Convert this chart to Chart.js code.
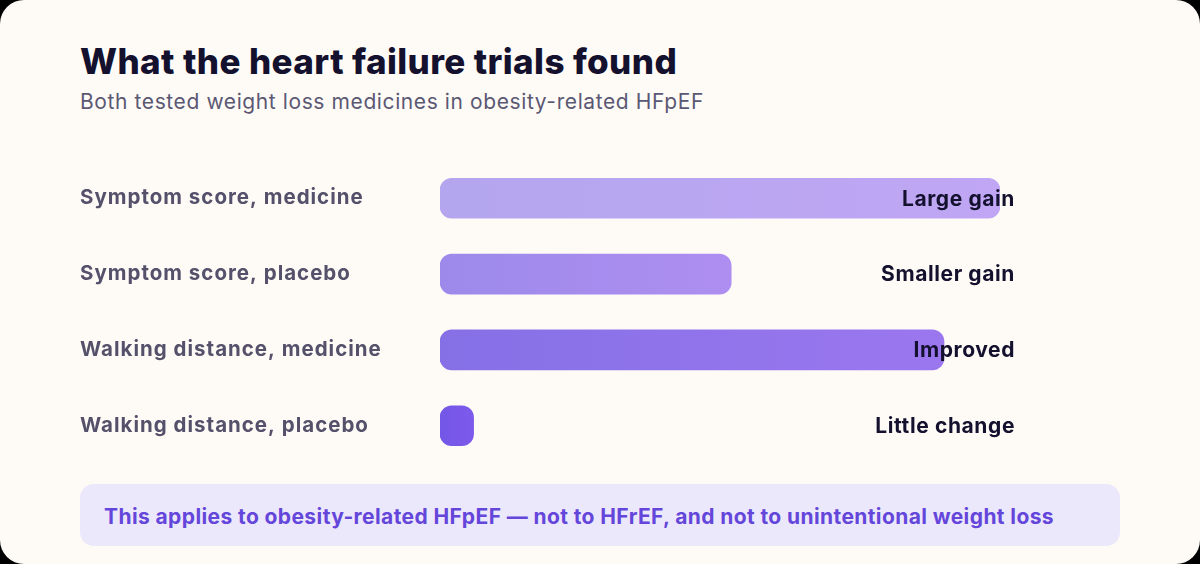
<!DOCTYPE html>
<html>
<head>
<meta charset="utf-8">
<script src="https://cdn.jsdelivr.net/npm/chart.js@4"></script>
<style>
  html, body { margin: 0; padding: 0; background: #000; }
  .card {
    position: relative;
    width: 1200px;
    height: 564px;
    background: #fefbf7;
    border-radius: 24px;
    overflow: hidden;
    font-family: Inter, "Noto Sans", sans-serif;
  }
  h1 {
    position: absolute;
    left: 80px;
    top: 40px;
    margin: 0;
    font-size: 35px;
    font-weight: 800;
    color: #14112e;
    letter-spacing: 0.4px;
  }
  .sub {
    position: absolute;
    left: 80px;
    top: 89px;
    margin: 0;
    font-size: 21px;
    color: #5b5873;
    letter-spacing: 0.6px;
  }
  .chart-box {
    position: absolute;
    left: 80px;
    top: 148px;
    width: 940px;
    height: 328px;
  }
  .note {
    position: absolute;
    left: 80px;
    top: 484px;
    width: 1040px;
    height: 62px;
    border-radius: 14px;
    background: #ece8fc;
    color: #6446da;
    font-size: 21px;
    font-weight: 700;
    line-height: 66px;
    padding-left: 24px;
    box-sizing: border-box;
    letter-spacing: 0.4px;
    overflow: hidden;
  }
</style>
</head>
<body>
<div class="card">
  <h1>What the heart failure trials found</h1>
  <p class="sub">Both tested weight loss medicines in obesity-related HFpEF</p>
  <div class="chart-box"><canvas id="myChart"></canvas></div>
  <div class="note">This applies to obesity-related HFpEF — not to HFrEF, and not to unintentional weight loss</div>
</div>
<script>
// rows, top to bottom
let categories = ['Symptom score, medicine', 'Symptom score, placebo', 'Walking distance, medicine', 'Walking distance, placebo'];
let values = [100, 52, 90, 6];
let valueLabels = ['Large gain', 'Smaller gain', 'Improved', 'Little change'];

// gradient stops per bar (left, right)
let barColors = [
    ['#b3a6ee', '#c0a6f4'],
    ['#9c8aea', '#ae8ef1'],
    ['#8570e6', '#9b77ef'],
    ['#7357e6', '#7e5aeb']
];

const valueLabelPlugin = {
    id: 'valueLabels',
    beforeDraw(chart) {
        // wider text, closer to the original face
        chart.ctx.letterSpacing = '1px';
    },
    afterDatasetsDraw(chart) {
        const ctx = chart.ctx;
        const meta = chart.getDatasetMeta(0);
        ctx.save();
        ctx.letterSpacing = '0.6px';
        ctx.font = '700 21px Inter, "Noto Sans", sans-serif';
        ctx.fillStyle = '#14112e';
        ctx.textAlign = 'right';
        ctx.textBaseline = 'middle';
        meta.data.forEach((bar, i) => {
            ctx.fillText(valueLabels[i], chart.chartArea.right + 15, bar.y + 1);
        });
        ctx.restore();
    }
};

let ctx = document.getElementById('myChart').getContext('2d');
let myChart = new Chart(ctx, {
    type: 'bar',
    data: {
        labels: categories,
        datasets: [{
            data: values,
            backgroundColor: (c) => {
                const chart = c.chart;
                if (!chart.chartArea || !chart.scales.x) return barColors[c.dataIndex % 4][0];
                const x0 = chart.scales.x.getPixelForValue(0);
                const x1 = chart.scales.x.getPixelForValue(c.raw);
                const g = chart.ctx.createLinearGradient(x0, 0, x1 + 1, 0);
                g.addColorStop(0, barColors[c.dataIndex][0]);
                g.addColorStop(1, barColors[c.dataIndex][1]);
                return g;
            },
            borderRadius: 12,
            borderSkipped: false,
            barThickness: 40
        }]
    },
    options: {
        indexAxis: 'y',
        responsive: true,
        maintainAspectRatio: false,
        animation: false,
        layout: { padding: { left: 0, right: 20, top: 0, bottom: 0 } },
        plugins: {
            legend: { display: false },
            tooltip: { enabled: false }
        },
        scales: {
            x: {
                display: false,
                min: 0,
                max: 100
            },
            y: {
                afterFit: (scale) => { scale.width = 360; },
                grid: { display: false },
                border: { display: false },
                ticks: {
                    crossAlign: 'far',
                    padding: 0,
                    color: '#55516b',
                    font: { family: 'Inter, "Noto Sans", sans-serif', size: 20.5, weight: '700' }
                }
            }
        }
    },
    plugins: [valueLabelPlugin]
});
</script>
</body>
</html>
